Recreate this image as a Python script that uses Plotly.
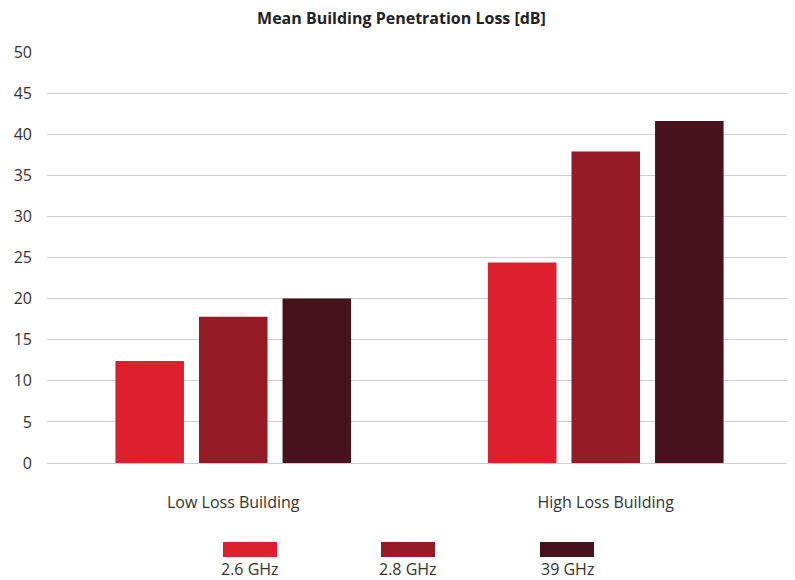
import plotly.graph_objects as go

categories = ["Low Loss Building", "High Loss Building"]
series_names = ["2.6 GHz", "2.8 GHz", "39 GHz"]
values_26 = [12.4, 24.4]
values_28 = [17.8, 37.9]
values_39 = [20.0, 41.6]
colors = ["#DC202E", "#951B26", "#46121B"]
y_ticks = [0, 5, 10, 15, 20, 25, 30, 35, 40, 45, 50]

series_values = [values_26, values_28, values_39]

fig = go.Figure()
for name, vals, col in zip(series_names, series_values, colors):
    fig.add_trace(go.Bar(x=categories, y=vals, name=name, marker_color=col,
                         marker_line_width=0, showlegend=False))

font_family = "Open Sans, Lato, sans-serif"
OFF = 8  # page body margin
W, H = 795 - OFF, 580 - OFF
ml, mr, mt, mb = 47 - OFF, 3, 52 - OFF, 117
pw = W - ml - mr
ph = H - mt - mb
y_zero_page = 463

fig.update_layout(
    width=W, height=H,
    margin=dict(l=ml, r=mr, t=mt, b=mb),
    plot_bgcolor="white", paper_bgcolor="white",
    barmode="group", bargap=0.327, bargroupgap=0.18,
    font=dict(family=font_family, color="#333333", size=16),
    title=dict(text="<b>Mean Building Penetration Loss [dB]</b>",
               x=0.5, xanchor="center", y=1 - (18 - OFF) / H, yanchor="middle",
               font=dict(size=16, color="#222222", family=font_family)),
)
fig.update_yaxes(range=[0, 50], tickvals=y_ticks, showgrid=True,
                 gridcolor="#CDD0D0", gridwidth=1, zeroline=True,
                 zerolinecolor="#CDD0D0", zerolinewidth=1, showline=False,
                 ticks="", ticklabelstandoff=14,
                 tickfont=dict(size=16, color="#333333"))
fig.update_xaxes(showline=False, ticks="", ticklabelstandoff=28,
                 tickfont=dict(size=16, color="#333333"))

# custom legend: swatch above label
legend_px = [250, 408, 567]
for cx, name, col in zip(legend_px, series_names, colors):
    x0 = (cx - 27 - 47) / pw
    x1 = (cx + 27 - 47) / pw
    y_top = (y_zero_page - 542) / ph
    y_bot = (y_zero_page - 557) / ph
    fig.add_shape(type="rect", xref="paper", yref="paper",
                  x0=x0, x1=x1, y0=y_bot, y1=y_top,
                  fillcolor=col, line=dict(width=0))
    fig.add_annotation(xref="paper", yref="paper", x=(cx - 47) / pw,
                       y=(y_zero_page - 569) / ph, text=name, showarrow=False,
                       xanchor="center", yanchor="middle",
                       font=dict(size=16, color="#333333"))

fig.write_html("out.html")
